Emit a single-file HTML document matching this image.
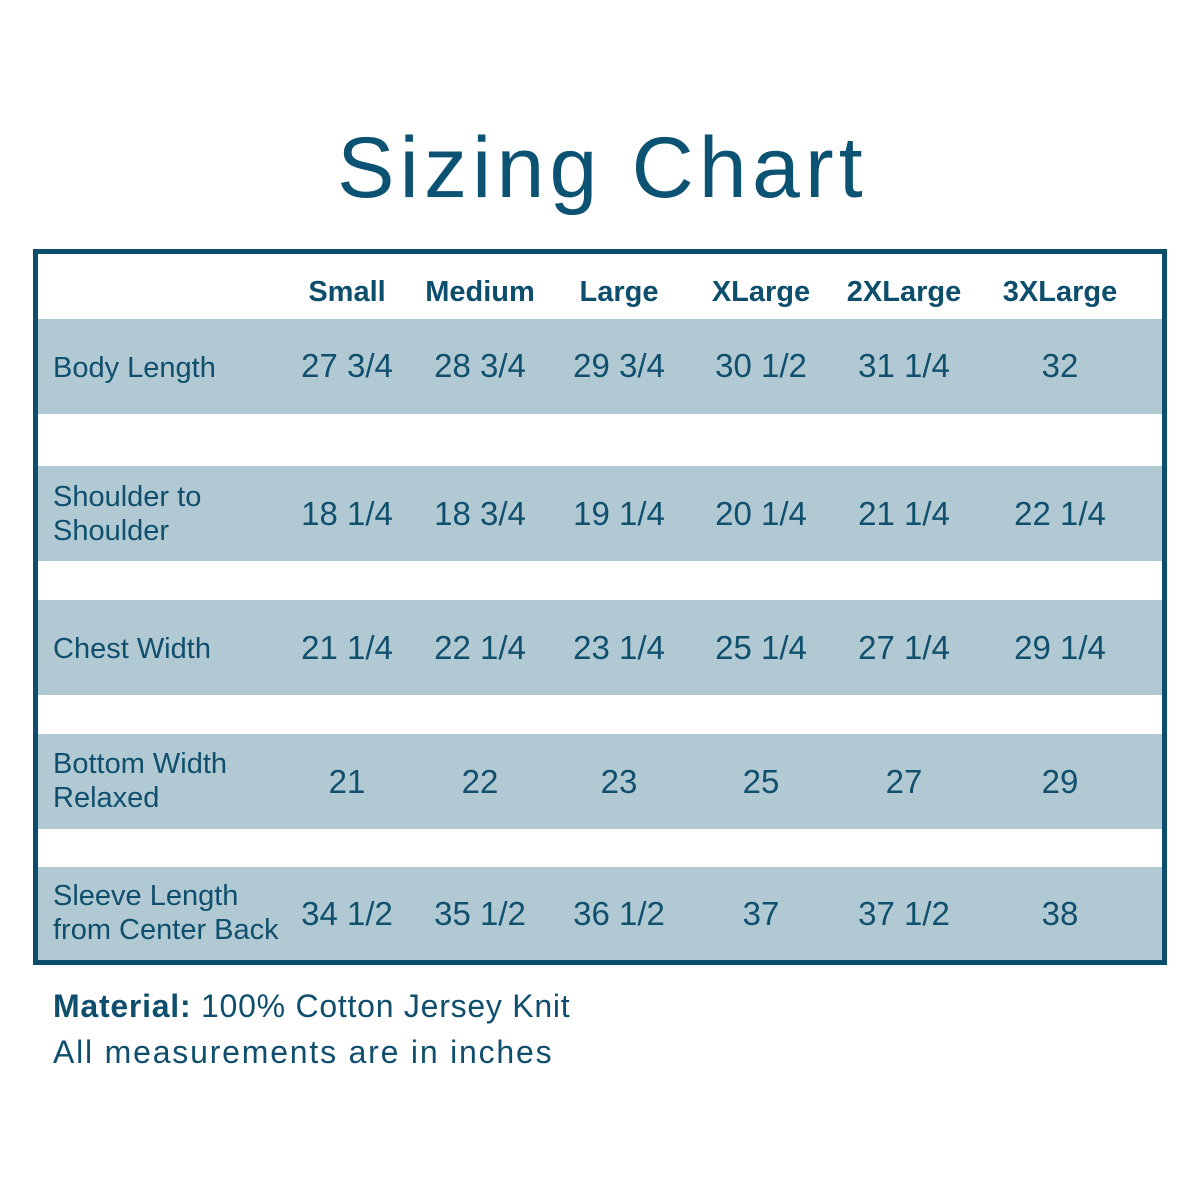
<!DOCTYPE html>
<html>
<head>
<meta charset="utf-8">
<style>
  html,body{margin:0;padding:0;}
  body{width:1200px;height:1200px;background:#ffffff;position:relative;overflow:hidden;
       font-family:"Liberation Sans",Arial,sans-serif;color:#0f4f6d;}
  .title{position:absolute;left:0;top:118px;width:1200px;text-align:center;
         font-size:86px;line-height:100px;letter-spacing:5.2px;padding-left:5px;box-sizing:border-box;color:#0b5273;}
  .frame{position:absolute;left:33px;top:249px;width:1124px;height:706px;border:5px solid #0b4f6c;}
  .band{position:absolute;left:38px;width:1124px;background:#b1c9d3;}
  .h{position:absolute;width:200px;margin-left:-100px;text-align:center;height:40px;line-height:40px;
     font-size:29px;font-weight:bold;color:#0d4e6c;}
  .v{position:absolute;width:200px;margin-left:-100px;text-align:center;height:40px;line-height:40px;
     font-size:33px;color:#10506e;}
  .l{position:absolute;left:53px;height:40px;line-height:40px;font-size:29px;white-space:nowrap;color:#0f4f6d;}
  .f{position:absolute;left:53px;height:40px;line-height:40px;font-size:32px;white-space:nowrap;color:#0f4f6d;}
</style>
</head>
<body>
<div class="title">Sizing Chart</div>

<div class="frame"></div>
<div class="band" style="top:319px;height:95px;"></div>
<div class="band" style="top:466px;height:95px;"></div>
<div class="band" style="top:600px;height:95px;"></div>
<div class="band" style="top:734px;height:95px;"></div>
<div class="band" style="top:867px;height:93px;"></div>

<!-- headers -->
<div class="h" style="left:347px;top:272px;">Small</div>
<div class="h" style="left:480px;top:272px;">Medium</div>
<div class="h" style="left:619px;top:272px;">Large</div>
<div class="h" style="left:761px;top:272px;">XLarge</div>
<div class="h" style="left:904px;top:272px;">2XLarge</div>
<div class="h" style="left:1060px;top:272px;">3XLarge</div>

<!-- row labels -->
<div class="l" style="top:348px;">Body Length</div>
<div class="l" style="top:477px;">Shoulder to</div>
<div class="l" style="top:511px;">Shoulder</div>
<div class="l" style="top:629px;">Chest Width</div>
<div class="l" style="top:744px;">Bottom Width</div>
<div class="l" style="top:778px;">Relaxed</div>
<div class="l" style="top:876px;">Sleeve Length</div>
<div class="l" style="top:910px;">from Center Back</div>

<!-- row 1 -->
<div class="v" style="left:347px;top:346px;">27 3/4</div>
<div class="v" style="left:480px;top:346px;">28 3/4</div>
<div class="v" style="left:619px;top:346px;">29 3/4</div>
<div class="v" style="left:761px;top:346px;">30 1/2</div>
<div class="v" style="left:904px;top:346px;">31 1/4</div>
<div class="v" style="left:1060px;top:346px;">32</div>

<!-- row 2 -->
<div class="v" style="left:347px;top:494px;">18 1/4</div>
<div class="v" style="left:480px;top:494px;">18 3/4</div>
<div class="v" style="left:619px;top:494px;">19 1/4</div>
<div class="v" style="left:761px;top:494px;">20 1/4</div>
<div class="v" style="left:904px;top:494px;">21 1/4</div>
<div class="v" style="left:1060px;top:494px;">22 1/4</div>

<!-- row 3 -->
<div class="v" style="left:347px;top:628px;">21 1/4</div>
<div class="v" style="left:480px;top:628px;">22 1/4</div>
<div class="v" style="left:619px;top:628px;">23 1/4</div>
<div class="v" style="left:761px;top:628px;">25 1/4</div>
<div class="v" style="left:904px;top:628px;">27 1/4</div>
<div class="v" style="left:1060px;top:628px;">29 1/4</div>

<!-- row 4 -->
<div class="v" style="left:347px;top:762px;">21</div>
<div class="v" style="left:480px;top:762px;">22</div>
<div class="v" style="left:619px;top:762px;">23</div>
<div class="v" style="left:761px;top:762px;">25</div>
<div class="v" style="left:904px;top:762px;">27</div>
<div class="v" style="left:1060px;top:762px;">29</div>

<!-- row 5 -->
<div class="v" style="left:347px;top:894px;">34 1/2</div>
<div class="v" style="left:480px;top:894px;">35 1/2</div>
<div class="v" style="left:619px;top:894px;">36 1/2</div>
<div class="v" style="left:761px;top:894px;">37</div>
<div class="v" style="left:904px;top:894px;">37 1/2</div>
<div class="v" style="left:1060px;top:894px;">38</div>

<!-- footer -->
<div class="f" style="top:986px;letter-spacing:0.75px;"><b>Material:</b> 100% Cotton Jersey Knit</div>
<div class="f" style="top:1032px;letter-spacing:1.8px;">All measurements are in inches</div>
</body>
</html>
